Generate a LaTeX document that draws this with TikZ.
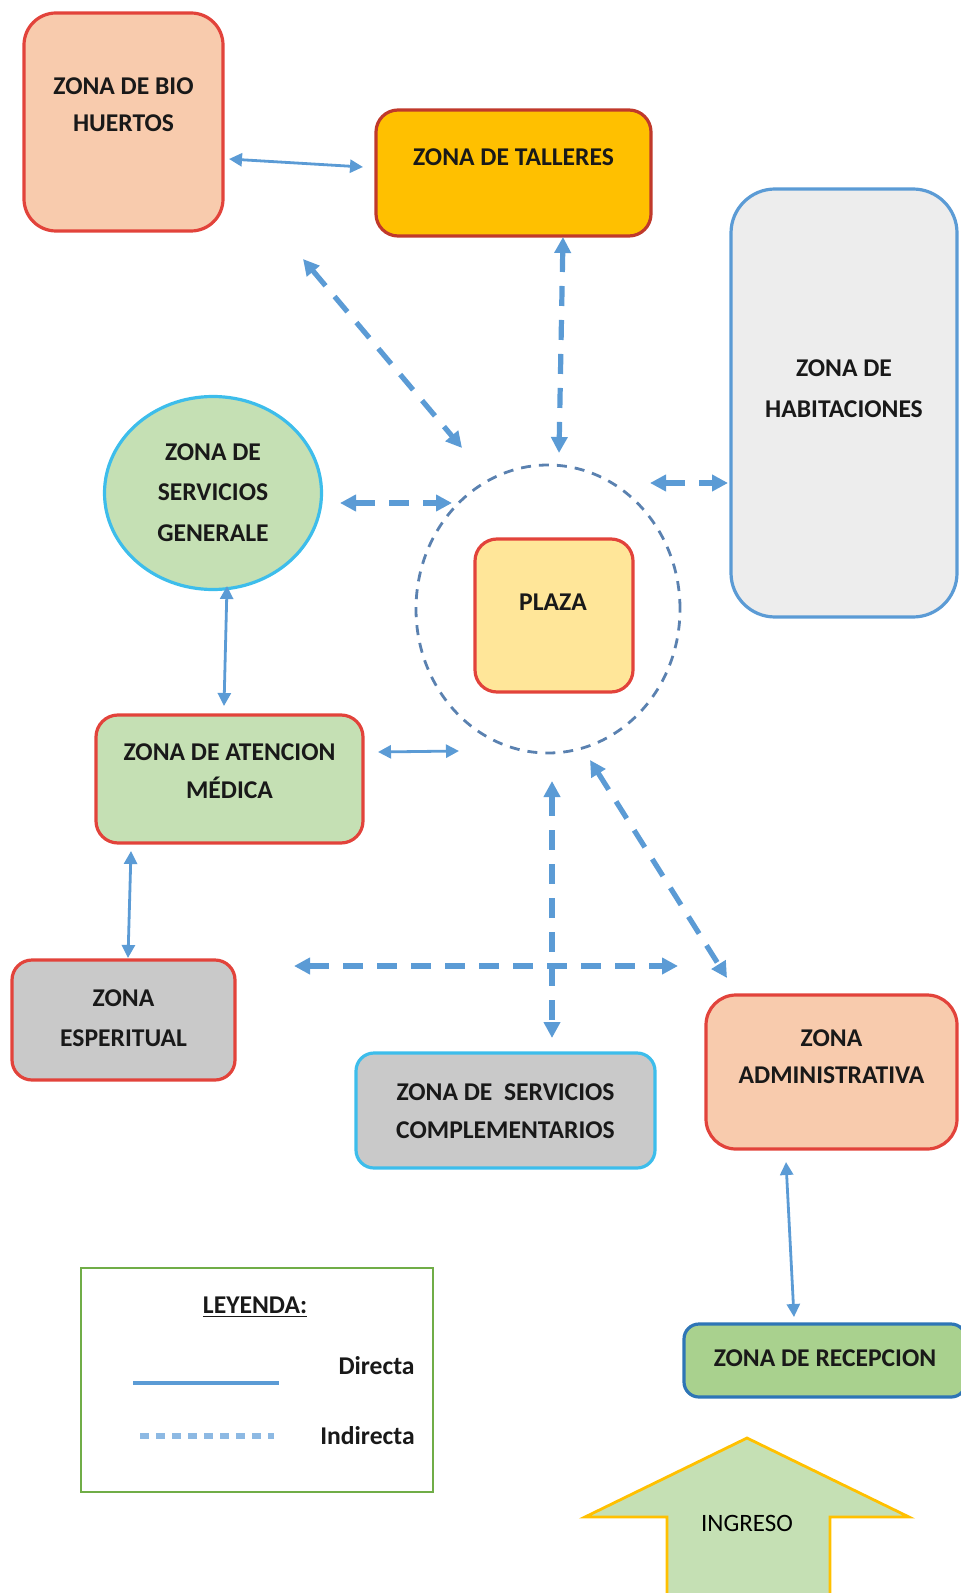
\documentclass[tikz,border=0pt]{standalone}
\usepackage{fontspec}
\setmainfont{Carlito}
\usetikzlibrary{shapes.geometric,arrows.meta}
\definecolor{peach}{HTML}{F8CBAD}
\definecolor{redb}{HTML}{E2433B}
\definecolor{darkredb}{HTML}{C0392B}
\definecolor{orangef}{HTML}{FFC000}
\definecolor{greyf}{HTML}{EDEDED}
\definecolor{greyd}{HTML}{C9C9C9}
\definecolor{blueb}{HTML}{5B9BD5}
\definecolor{cyanb}{HTML}{3DBDEB}
\definecolor{greenf}{HTML}{C5E0B4}
\definecolor{greenr}{HTML}{A9D18E}
\definecolor{bluer}{HTML}{2E75B6}
\definecolor{yellowf}{HTML}{FFE699}
\definecolor{legendg}{HTML}{70AD47}
\definecolor{arrowc}{HTML}{5B9BD5}
\definecolor{ringc}{HTML}{5A81B0}
\definecolor{legdash}{HTML}{8DB9E3}
\begin{document}
\begin{tikzpicture}[x=0.5pt,y=-0.5pt,
  zone/.style={draw, line width=1.6pt, inner sep=0pt},
  txt/.style={font=\bfseries\fontsize{12.8pt}{19pt}\selectfont, align=center, inner sep=0pt, text=black!90},
  solidarrow/.style={draw=arrowc, line width=1.4pt, {Triangle[length=6.5pt,width=6.5pt]}-{Triangle[length=6.5pt,width=6.5pt]}},
  dasharrow/.style={draw=arrowc, line width=2.6pt, dash pattern=on 10pt off 7pt, {Triangle[length=8pt,width=8pt]}-{Triangle[length=8pt,width=8pt]}}
]
\useasboundingbox (0,0) rectangle (960,1593);

% zones
\node[zone, draw=redb, fill=peach, rounded corners=16pt, minimum width=99.5pt, minimum height=109pt] (bio) at (123.5,122) {};
\node[txt, font=\bfseries\fontsize{12.8pt}{18.5pt}\selectfont] (biot) at (123.5,104.5) {ZONA DE BIO\\HUERTOS};

\node[zone, draw=darkredb, fill=orangef, rounded corners=11pt, minimum width=137.5pt, minimum height=63pt] (tall) at (513.5,173) {};
\node[txt] (tallt) at (513.5,157) {ZONA DE TALLERES};

\node[zone, draw=blueb, fill=greyf, rounded corners=22pt, minimum width=113pt, minimum height=214pt] (hab) at (844,403) {};
\node[txt, font=\bfseries\fontsize{12.8pt}{20.5pt}\selectfont] (habt) at (844,388.5) {ZONA DE\\HABITACIONES};

\node[zone, ellipse, draw=cyanb, fill=greenf, minimum width=108.5pt, minimum height=96.5pt] (serv) at (213,493) {};
\node[txt, font=\bfseries\fontsize{12.8pt}{20.3pt}\selectfont] (servt) at (213,492.5) {ZONA DE\\SERVICIOS\\GENERALE};

\node[ellipse, draw=ringc, line width=1.4pt, dash pattern=on 5pt off 4pt, minimum width=132pt, minimum height=144pt, inner sep=0pt] (ring) at (548,609) {};

\node[zone, draw=redb, fill=yellowf, rounded corners=11pt, minimum width=79pt, minimum height=76.5pt] (plaza) at (554,615.5) {};
\node[txt] (plazat) at (553,602) {PLAZA};

\node[zone, draw=redb, fill=greenf, rounded corners=11pt, minimum width=133.5pt, minimum height=64pt] (aten) at (229.5,779) {};
\node[txt] (atent) at (229.5,771) {ZONA DE ATENCION\\MÉDICA};

\node[zone, draw=redb, fill=greyd, rounded corners=10pt, minimum width=111.5pt, minimum height=60pt] (esp) at (123.5,1020) {};
\node[txt, font=\bfseries\fontsize{12.8pt}{20pt}\selectfont] (espt) at (123.5,1018) {ZONA\\ESPERITUAL};

\node[zone, draw=cyanb, fill=greyd, rounded corners=9pt, minimum width=149.5pt, minimum height=57.5pt] (comp) at (505.5,1110.5) {};
\node[txt] (compt) at (505.5,1111) {ZONA DE\ \ SERVICIOS\\COMPLEMENTARIOS};

\node[zone, draw=redb, fill=peach, rounded corners=15pt, minimum width=125.5pt, minimum height=77pt] (adm) at (831.5,1072) {};
\node[txt, font=\bfseries\fontsize{12.8pt}{18.5pt}\selectfont] (admt) at (831.5,1056.5) {ZONA\\ADMINISTRATIVA};

\node[zone, draw=bluer, fill=greenr, rounded corners=7.5pt, minimum width=141pt, minimum height=36.5pt] (rec) at (825,1360.5) {};
\node[txt] (rect) at (825,1358) {ZONA DE RECEPCION};

% ingreso arrow
\draw[draw=orangef, fill=greenf, line width=1.4pt, line join=miter]
  (747,1438) -- (909,1517) -- (830,1517) -- (830,1620) -- (667,1620) -- (667,1517) -- (585,1517) -- cycle;
\node[font=\fontsize{12.5pt}{15pt}\selectfont, inner sep=0pt] (ingreso) at (747,1523) {INGRESO};

% legend
\node[draw=legendg, line width=1.4pt, fill=white, minimum width=176pt, minimum height=112pt, inner sep=0pt] (legend) at (257,1380) {};
\node[txt] (leyt) at (255,1307) {\underline{LEYENDA:}};
\node[txt, anchor=east] (dirt) at (415,1366) {Directa};
\node[txt, anchor=east] (indt) at (415,1436) {Indirecta};
\coordinate (ls1) at (133,1383);
\coordinate (ls2) at (279,1383);
\coordinate (ld1) at (140,1436);
\coordinate (ld2) at (274,1436);
\draw[draw=arrowc, line width=1.6pt] (ls1) -- (ls2);
\draw[draw=legdash, line width=2.6pt, dash pattern=on 4.5pt off 3.5pt] (ld1) -- (ld2);

% connector end points
\coordinate (c1a) at (229,159);  \coordinate (c1b) at (363,167);
\coordinate (c2a) at (303,259);  \coordinate (c2b) at (462,448);
\coordinate (c3a) at (563,237);  \coordinate (c3b) at (559,453);
\coordinate (c4a) at (650,483);  \coordinate (c4b) at (728,483);
\coordinate (c5a) at (340,503);  \coordinate (c5b) at (452,503);
\coordinate (c6a) at (227,586);  \coordinate (c6b) at (224,706);
\coordinate (c7a) at (378,752);  \coordinate (c7b) at (459,751);
\coordinate (c8a) at (131,851);  \coordinate (c8b) at (128,958);
\coordinate (c9a) at (294,966);  \coordinate (c9b) at (678,966);
\coordinate (c10a) at (552,781); \coordinate (c10b) at (552,1038);
\coordinate (c11a) at (590,760); \coordinate (c11b) at (727,978);
\coordinate (c12a) at (786,1162); \coordinate (c12b) at (794,1317);

% connectors
\draw[solidarrow] (c1a) -- (c1b);
\draw[dasharrow] (c2a) -- (c2b);
\draw[dasharrow] (c3a) -- (c3b);
\draw[dasharrow] (c4a) -- (c4b);
\draw[dasharrow] (c5a) -- (c5b);
\draw[solidarrow] (c6a) -- (c6b);
\draw[solidarrow] (c7a) -- (c7b);
\draw[solidarrow] (c8a) -- (c8b);
\draw[dasharrow] (c9a) -- (c9b);
\draw[dasharrow] (c10a) -- (c10b);
\draw[dasharrow] (c11a) -- (c11b);
\draw[solidarrow] (c12a) -- (c12b);
\end{tikzpicture}
\end{document}
